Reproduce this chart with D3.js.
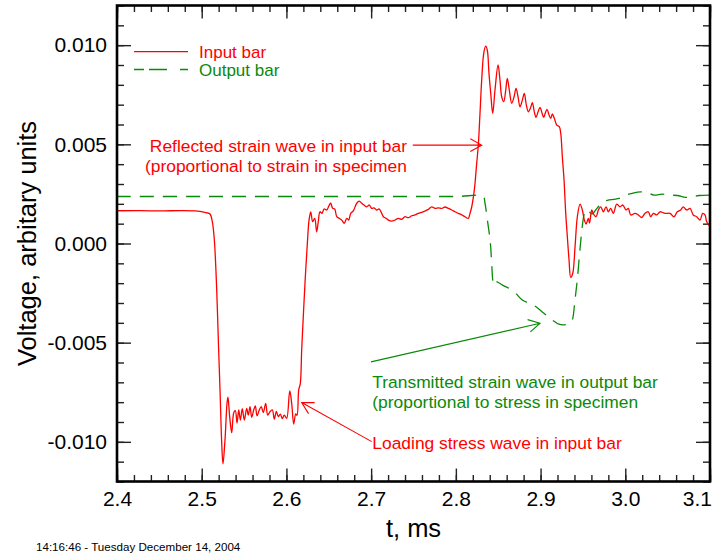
<!DOCTYPE html>
<html>
<head>
<meta charset="utf-8">
<script src="https://cdn.jsdelivr.net/npm/d3@7"></script>
<style>
  body { margin: 0; background: #fff; }
  svg { display: block; }
  text { font-family: "Liberation Sans", Arial, Helvetica, sans-serif; }
</style>
</head>
<body>
<svg id="chart" width="712" height="556"></svg>
<script>
// ---------- Data ----------
// Input bar (red), time in ms / voltage
const inputT = [
  2.4000, 2.4272, 2.4508, 2.4744, 2.4921, 2.4980, 2.5059, 2.5098, 2.5125, 2.5149,
  2.5177, 2.5196, 2.5216, 2.5236, 2.5251, 2.5275, 2.5299, 2.5310, 2.5330, 2.5354,
  2.5378, 2.5397, 2.5417, 2.5437, 2.5456, 2.5479, 2.5503, 2.5531, 2.5550, 2.5570,
  2.5590, 2.5614, 2.5633, 2.5653, 2.5680, 2.5703, 2.5727, 2.5755, 2.5779, 2.5803,
  2.5833, 2.5857, 2.5881, 2.5904, 2.5928, 2.5951, 2.5975, 2.6003, 2.6039, 2.6062,
  2.6086, 2.6110, 2.6125, 2.6145, 2.6164, 2.6180, 2.6199, 2.6219, 2.6247, 2.6267,
  2.6287, 2.6310, 2.6334, 2.6357, 2.6376, 2.6396, 2.6420, 2.6444, 2.6475, 2.6506,
  2.6523, 2.6546, 2.6570, 2.6594, 2.6624, 2.6653, 2.6683, 2.6712, 2.6735, 2.6759,
  2.6789, 2.6830, 2.6860, 2.6889, 2.6916, 2.6948, 2.6978, 2.7007, 2.7034, 2.7066,
  2.7093, 2.7125, 2.7144, 2.7176, 2.7203, 2.7243, 2.7282, 2.7321, 2.7361, 2.7400,
  2.7439, 2.7479, 2.7518, 2.7557, 2.7597, 2.7636, 2.7675, 2.7715, 2.7754, 2.7793,
  2.7833, 2.7872, 2.7911, 2.7951, 2.7990, 2.8029, 2.8069, 2.8108, 2.8147, 2.8167,
  2.8187, 2.8218, 2.8246, 2.8265, 2.8285, 2.8305, 2.8329, 2.8352, 2.8371, 2.8391,
  2.8415, 2.8435, 2.8462, 2.8498, 2.8521, 2.8541, 2.8565, 2.8589, 2.8607, 2.8631,
  2.8659, 2.8687, 2.8710, 2.8734, 2.8757, 2.8785, 2.8808, 2.8832, 2.8856, 2.8879,
  2.8903, 2.8926, 2.8946, 2.8970, 2.8994, 2.9017, 2.9037, 2.9056, 2.9076, 2.9100,
  2.9120, 2.9139, 2.9162, 2.9191, 2.9221, 2.9238, 2.9257, 2.9277, 2.9297, 2.9316,
  2.9336, 2.9356, 2.9380, 2.9407, 2.9434, 2.9466, 2.9493, 2.9517, 2.9537, 2.9564,
  2.9578, 2.9604, 2.9623, 2.9655, 2.9682, 2.9710, 2.9741, 2.9773, 2.9800, 2.9828,
  2.9859, 2.9899, 2.9938, 2.9970, 3.0009, 3.0036, 3.0064, 3.0115, 3.0154, 3.0194,
  3.0233, 3.0272, 3.0300, 3.0331, 3.0371, 3.0410, 3.0449, 3.0489, 3.0528, 3.0575,
  3.0614, 3.0654, 3.0685, 3.0725, 3.0764, 3.0803, 3.0843, 3.0882, 3.0914, 3.0941,
  3.0961, 3.1000
];
const inputV = [
  0.00165, 0.00166, 0.00164, 0.00166, 0.00165, 0.00162, 0.00155, 0.00149, 0.00110, 0.00018,
  -0.00234, -0.00486, -0.00738, -0.01005, -0.01111, -0.00990, -0.00804, -0.00775, -0.00873, -0.00954,
  -0.00853, -0.00843, -0.00905, -0.00839, -0.00890, -0.00833, -0.00890, -0.00831, -0.00865, -0.00823,
  -0.00876, -0.00839, -0.00819, -0.00869, -0.00839, -0.00823, -0.00853, -0.00806, -0.00865, -0.00850,
  -0.00839, -0.00886, -0.00846, -0.00873, -0.00860, -0.00883, -0.00865, -0.00881, -0.00743, -0.00805,
  -0.00910, -0.00859, -0.00866, -0.00738, -0.00705, -0.00537, -0.00369, -0.00201, 0.00001, 0.00118,
  0.00159, 0.00110, 0.00127, 0.00059, 0.00110, 0.00160, 0.00152, 0.00174, 0.00169, 0.00194,
  0.00203, 0.00177, 0.00174, 0.00135, 0.00127, 0.00118, 0.00102, 0.00127, 0.00118, 0.00152,
  0.00164, 0.00203, 0.00214, 0.00203, 0.00194, 0.00185, 0.00194, 0.00177, 0.00180, 0.00169,
  0.00174, 0.00152, 0.00135, 0.00127, 0.00118, 0.00113, 0.00118, 0.00127, 0.00122, 0.00135,
  0.00130, 0.00140, 0.00144, 0.00152, 0.00157, 0.00164, 0.00172, 0.00185, 0.00177, 0.00180,
  0.00177, 0.00184, 0.00177, 0.00169, 0.00160, 0.00152, 0.00144, 0.00135, 0.00127, 0.00152,
  0.00184, 0.00270, 0.00404, 0.00496, 0.00656, 0.00824, 0.00959, 0.00995, 0.00975, 0.00858,
  0.00740, 0.00656, 0.00774, 0.00900, 0.00824, 0.00740, 0.00715, 0.00774, 0.00833, 0.00774,
  0.00707, 0.00740, 0.00782, 0.00740, 0.00689, 0.00723, 0.00757, 0.00698, 0.00664, 0.00681,
  0.00710, 0.00664, 0.00636, 0.00663, 0.00686, 0.00658, 0.00636, 0.00658, 0.00676, 0.00648,
  0.00631, 0.00653, 0.00631, 0.00597, 0.00589, 0.00555, 0.00437, 0.00320, 0.00152, 0.00034,
  -0.00083, -0.00171, -0.00150, -0.00016, 0.00135, 0.00199, 0.00169, 0.00118, 0.00098, 0.00127,
  0.00103, 0.00169, 0.00149, 0.00135, 0.00169, 0.00185, 0.00160, 0.00185, 0.00160, 0.00177,
  0.00152, 0.00199, 0.00185, 0.00194, 0.00169, 0.00177, 0.00144, 0.00152, 0.00144, 0.00131,
  0.00152, 0.00160, 0.00135, 0.00152, 0.00144, 0.00160, 0.00155, 0.00152, 0.00152, 0.00135,
  0.00160, 0.00169, 0.00185, 0.00169, 0.00177, 0.00144, 0.00135, 0.00118, 0.00152, 0.00144,
  0.00110, 0.00085
];

// Output bar (green, dashed)
const outputT = [
  2.4000, 2.5000, 2.6000, 2.7000, 2.8000, 2.8321, 2.8344, 2.8364, 2.8383, 2.8397,
  2.8411, 2.8423, 2.8442, 2.8457, 2.8474, 2.8510, 2.8568, 2.8627, 2.8706, 2.8784,
  2.8863, 2.8942, 2.9040, 2.9138, 2.9217, 2.9296, 2.9347, 2.9374, 2.9406, 2.9433,
  2.9461, 2.9485, 2.9512, 2.9532, 2.9571, 2.9610, 2.9650, 2.9689, 2.9728, 2.9787,
  2.9866, 2.9926, 3.0005, 3.0083, 3.0182, 3.0260, 3.0339, 3.0437, 3.0516, 3.0614,
  3.0713, 3.0791, 3.0870, 3.1000
];
const outputV = [
  0.00237, 0.00237, 0.00237, 0.00237, 0.00237, 0.00237, 0.00203, 0.00144, 0.00085, 0.00043,
  -0.00016, -0.00100, -0.00199, -0.00209, -0.00193, -0.00199, -0.00214, -0.00226, -0.00251, -0.00285,
  -0.00301, -0.00318, -0.00352, -0.00386, -0.00407, -0.00409, -0.00401, -0.00386, -0.00285, -0.00184,
  -0.00049, 0.00058, 0.00144, 0.00170, 0.00160, 0.00149, 0.00169, 0.00189, 0.00207, 0.00218,
  0.00223, 0.00227, 0.00244, 0.00253, 0.00260, 0.00257, 0.00244, 0.00249, 0.00244, 0.00242,
  0.00233, 0.00236, 0.00242, 0.00244
];

// Axes
const xMajorTicks = [2.4, 2.5, 2.6, 2.7, 2.8, 2.9, 3.0, 3.1];
const xTickLabels = ["2.4", "2.5", "2.6", "2.7", "2.8", "2.9", "3.0", "3.1"];
const yMajorTicks = [-0.010, -0.005, 0.000, 0.005, 0.010];
const yTickLabels = ["-0.010", "-0.005", "0.000", "0.005", "0.010"];

// Annotations (text anchors and arrows in data coords)
const reflectedLines = ["Reflected strain wave in input bar", "(proportional to strain in specimen"];
const transmittedLines = ["Transmitted strain wave in output bar", "(proportional to stress in specimen"];
const loadingLines = ["Loading stress wave in input bar"];

// ---------- Layout ----------
const svg = d3.select("#chart");
const W = 712, H = 556;
const plot = { left: 117, right: 710, top: 5.5, bottom: 481.5 };
const RED = "#ff0000";
const GREEN = "#0a8a0a";

const x = d3.scaleLinear().domain([2.4, 3.1]).range([plot.left, plot.right]);
const y = d3.scaleLinear().domain([-0.012, 0.012]).range([plot.bottom, plot.top]);

const xMinor = d3.range(0, 36).map(i => 2.4 + i * 0.02);
const yMinor = d3.range(0, 25).map(i => -0.012 + i * 0.001);

svg.append("rect").attr("width", W).attr("height", H).attr("fill", "#fff");

svg.append("defs").append("clipPath").attr("id", "clip")
  .append("rect")
  .attr("x", plot.left).attr("y", plot.top)
  .attr("width", plot.right - plot.left).attr("height", plot.bottom - plot.top);

// ---------- Axes (ticks point inward) ----------
function styleAxis(g) {
  g.select(".domain").remove();
  g.selectAll(".tick line").attr("stroke", "#222").attr("stroke-width", 1.4);
  g.selectAll(".tick text")
    .attr("fill", "#000")
    .style("font-family", "'Liberation Sans', Arial, sans-serif")
    .style("font-size", "21px");
}

// bottom
svg.append("g").attr("transform", `translate(0,${plot.bottom})`)
  .call(d3.axisBottom(x).tickValues(xMinor).tickSize(-6.5).tickFormat(""))
  .call(styleAxis);
const xAxisG = svg.append("g").attr("transform", `translate(0,${plot.bottom})`)
  .call(d3.axisBottom(x).tickValues(xMajorTicks).tickSize(-13).tickPadding(10)
    .tickFormat((d, i) => xTickLabels[i]))
  .call(styleAxis);
// last label sits against the right edge of the page
xAxisG.selectAll(".tick text")
  .filter((d, i) => i === xMajorTicks.length - 1)
  .attr("text-anchor", "end")
  .attr("x", 1.5);

// top
svg.append("g").attr("transform", `translate(0,${plot.top})`)
  .call(d3.axisTop(x).tickValues(xMinor).tickSize(-6.5).tickFormat(""))
  .call(styleAxis);
svg.append("g").attr("transform", `translate(0,${plot.top})`)
  .call(d3.axisTop(x).tickValues(xMajorTicks).tickSize(-13).tickFormat(""))
  .call(styleAxis);

// left
svg.append("g").attr("transform", `translate(${plot.left},0)`)
  .call(d3.axisLeft(y).tickValues(yMinor).tickSize(-7).tickFormat(""))
  .call(styleAxis);
svg.append("g").attr("transform", `translate(${plot.left},0)`)
  .call(d3.axisLeft(y).tickValues(yMajorTicks).tickSize(-14).tickPadding(10)
    .tickFormat((d, i) => yTickLabels[i]))
  .call(styleAxis);

// right
svg.append("g").attr("transform", `translate(${plot.right},0)`)
  .call(d3.axisRight(y).tickValues(yMinor).tickSize(-7).tickFormat(""))
  .call(styleAxis);
svg.append("g").attr("transform", `translate(${plot.right},0)`)
  .call(d3.axisRight(y).tickValues(yMajorTicks).tickSize(-14).tickFormat(""))
  .call(styleAxis);

// ---------- Series ----------
const inputData = inputT.map((t, i) => ({ t, v: inputV[i] }));
const outputData = outputT.map((t, i) => ({ t, v: outputV[i] }));

const line = d3.line()
  .x(d => x(d.t))
  .y(d => y(d.v))
  .curve(d3.curveCatmullRom.alpha(0.5));

const series = svg.append("g").attr("clip-path", "url(#clip)");

series.append("path")
  .datum(outputData)
  .attr("fill", "none")
  .attr("stroke", GREEN)
  .attr("stroke-width", 1.3)
  .attr("stroke-dasharray", "14,9")
  .attr("d", line);

series.append("path")
  .datum(inputData)
  .attr("fill", "none")
  .attr("stroke", RED)
  .attr("stroke-width", 1.3)
  .attr("stroke-linejoin", "round")
  .attr("d", line);

// ---------- Frame ----------
svg.append("rect")
  .attr("x", plot.left).attr("y", plot.top)
  .attr("width", plot.right - plot.left).attr("height", plot.bottom - plot.top)
  .attr("fill", "none").attr("stroke", "#000").attr("stroke-width", 2.6);

// ---------- Axis titles ----------
svg.append("text")
  .attr("x", (plot.left + plot.right) / 2)
  .attr("y", 537)
  .attr("text-anchor", "middle")
  .style("font-size", "25.5px")
  .text("t, ms");

svg.append("text")
  .attr("transform", `translate(36,${(plot.top + plot.bottom) / 2}) rotate(-90)`)
  .attr("text-anchor", "middle")
  .style("font-size", "25.5px")
  .text("Voltage, arbitary units");

svg.append("text")
  .attr("x", 36).attr("y", 551)
  .style("font-size", "11.6px")
  .text("14:16:46 - Tuesday December 14, 2004");

// ---------- Legend ----------
const legendItems = [
  { label: "Input bar", color: RED, dash: null },
  { label: "Output bar", color: GREEN, dash: "10,5,18,13,8" }
];
const legend = svg.append("g").attr("transform", "translate(134,51.7)");
legendItems.forEach((it, i) => {
  const row = legend.append("g").attr("transform", `translate(0,${i * 17.8})`);
  row.append("line")
    .attr("x1", 0).attr("x2", 54).attr("y1", 0).attr("y2", 0)
    .attr("stroke", it.color).attr("stroke-width", 1.3)
    .attr("stroke-dasharray", it.dash);
  row.append("text")
    .attr("x", 65).attr("y", 6)
    .attr("fill", it.color)
    .style("font-size", "17px")
    .text(it.label);
});

// ---------- Annotations ----------
function arrow(x1, y1, x2, y2, color) {
  const ang = Math.atan2(y2 - y1, x2 - x1);
  const L = 13, a = 29 * Math.PI / 180;
  const p = d3.path();
  p.moveTo(x1, y1); p.lineTo(x2, y2);
  p.moveTo(x2 - L * Math.cos(ang - a), y2 - L * Math.sin(ang - a));
  p.lineTo(x2, y2);
  p.lineTo(x2 - L * Math.cos(ang + a), y2 - L * Math.sin(ang + a));
  svg.append("path").attr("d", p.toString())
    .attr("fill", "none").attr("stroke", color).attr("stroke-width", 1.1);
}

function textBlock(lines, tx, vy, anchor, color) {
  const t = svg.append("text")
    .attr("fill", color)
    .attr("text-anchor", anchor)
    .style("font-size", "17.4px");
  lines.forEach((s, i) => {
    t.append("tspan").attr("x", x(tx)).attr("y", y(vy) + i * 20).text(s);
  });
}

textBlock(reflectedLines, 2.7423, 0.00463, "end", RED);
arrow(x(2.7491), y(0.00496), x(2.8305), y(0.00496), RED);

textBlock(transmittedLines, 2.7014, -0.00728, "start", GREEN);
arrow(x(2.6998), y(-0.00597), x(2.8994), y(-0.00402), GREEN);

textBlock(loadingLines, 2.7014, -0.01036, "start", RED);
arrow(x(2.7007), y(-0.00999), x(2.6180), y(-0.00802), RED);
</script>
</body>
</html>
